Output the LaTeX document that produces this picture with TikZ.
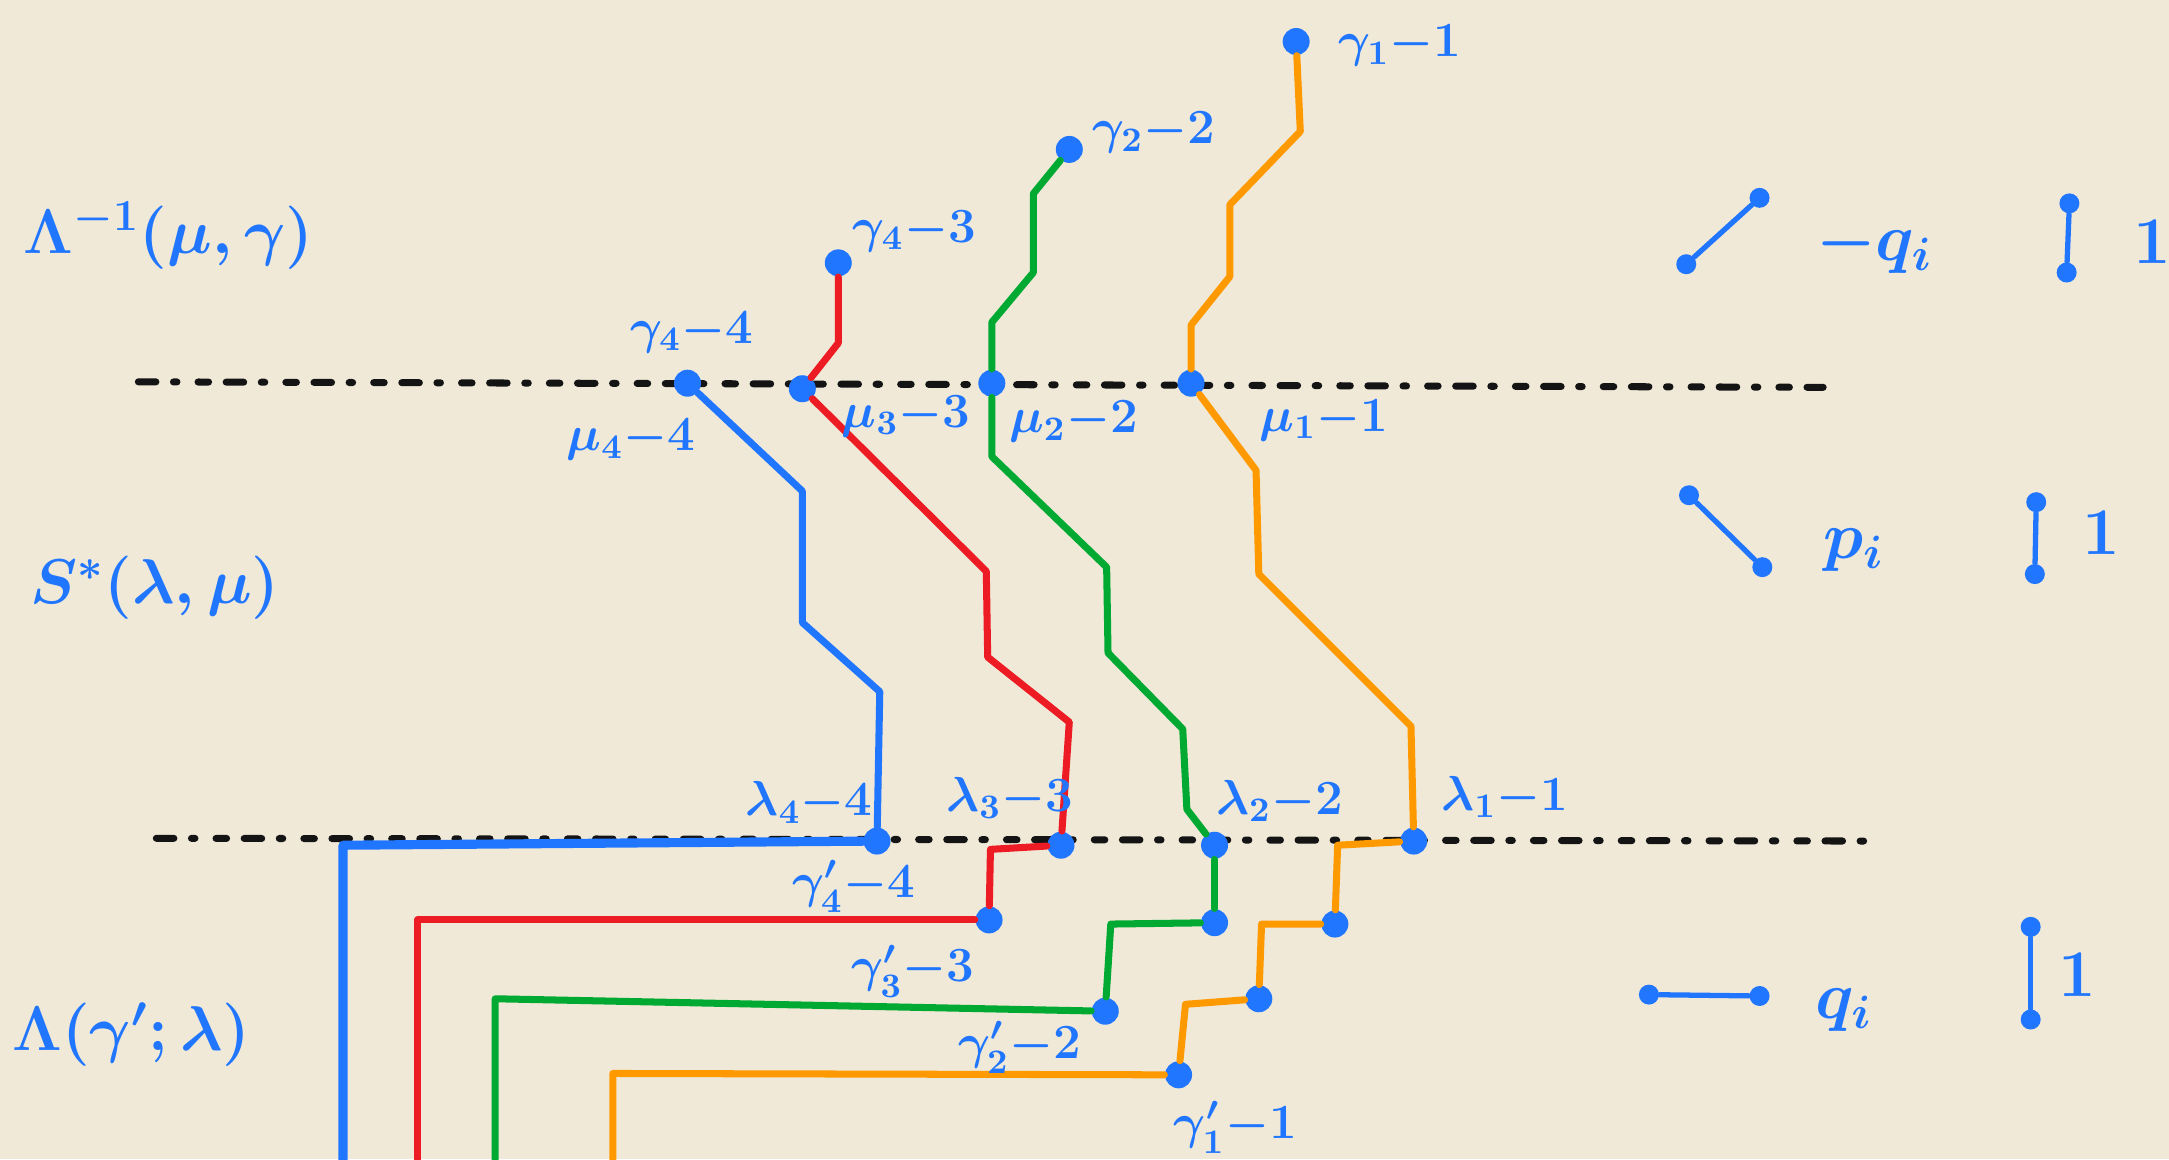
\documentclass[tikz,border=0pt]{standalone}
\usepackage{fix-cm}
\definecolor{bgc}{RGB}{240,233,215}
\definecolor{myblue}{RGB}{33,118,255}
\definecolor{myred}{RGB}{237,28,36}
\definecolor{mygreen}{RGB}{0,170,50}
\definecolor{myorange}{RGB}{255,153,0}
\definecolor{mydark}{RGB}{20,20,20}
\begin{document}
\begin{tikzpicture}[x=0.013833cm,y=-0.013833cm]
\tikzset{
 dotn/.style={circle, fill=myblue, inner sep=0pt, minimum size=0.27cm},
 ldot/.style={circle, fill=myblue, inner sep=0pt, minimum size=0.2cm},
 lbl/.style={text=myblue, font=\fontsize{14}{17}\selectfont\boldmath, inner sep=0pt},
 big/.style={text=myblue, font=\fontsize{18}{22}\selectfont\boldmath, inner sep=0pt},
 leg/.style={text=myblue, font=\fontsize{19}{23}\selectfont\boldmath, inner sep=0pt},
 pth/.style={line width=2pt, line cap=round, line join=round},
 legl/.style={draw=myblue, line width=1.5pt, line cap=round},
 sep/.style={draw=mydark, line width=2pt, line cap=round, dash pattern=on 5pt off 5pt on 1pt off 6pt on 3pt off 5pt},
}
\fill[bgc] (0,0) rectangle (1568,838);
\useasboundingbox (0,0) rectangle (1568,838);

% separator lines
\draw[sep] (100,276) -- (1318,280);
\draw[sep] (113,606) -- (1362,608);

% left labels
\node[big] (t1) at (122,170) {$\Lambda^{-1}(\mu,\gamma)$};
\node[big] (t2) at (112,425) {$S^{*}(\lambda,\mu)$};
\node[big] (t3) at (95,748) {$\Lambda(\gamma';\lambda)$};

% dots
\node[dotn] (g11) at (937,30) {};
\node[dotn] (g22) at (773,108) {};
\node[dotn] (g43) at (606,190) {};
\node[dotn] (m4) at (497,277) {};
\node[dotn] (m3) at (580,281) {};
\node[dotn] (m2) at (717,277) {};
\node[dotn] (m1) at (861,277) {};
\node[dotn] (l4) at (634,608) {};
\node[dotn] (l3) at (767,611) {};
\node[dotn] (l2) at (878,611) {};
\node[dotn] (l1) at (1022,608) {};
\node[dotn] (r1) at (715,665) {};
\node[dotn] (gr1) at (878,667) {};
\node[dotn] (gr2) at (799,731) {};
\node[dotn] (o1) at (965,668) {};
\node[dotn] (o2) at (910,722) {};
\node[dotn] (o3) at (852,777) {};

% upper paths
\draw[pth, myred] (g43) -- (606,248) -- (m3);
\draw[pth, mygreen] (g22) -- (747,140) -- (747,197) -- (717,233) -- (m2);
\draw[pth, myorange] (g11) -- (940,95) -- (889,148) -- (889,200) -- (861,235) -- (m1);

% middle paths
\draw[pth, myblue] (m4) -- (580,355) -- (580,450) -- (636,500) -- (l4);
\draw[pth, myred] (m3) -- (713,413) -- (714,475) -- (773,522) -- (l3);
\draw[pth, mygreen] (m2) -- (717,330) -- (800,410) -- (801,472) -- (855,527) -- (858,585) -- (l2);
\draw[pth, myorange] (m1) -- (908,340) -- (910,415) -- (1020,525) -- (l1);

% lower paths
\draw[pth, myblue, line width=2.6pt] (l4) -- (248,611) -- (248,845);
\draw[pth, myred] (l3) -- (716,614) -- (r1);
\draw[pth, myred] (r1) -- (302,665) -- (302,845);
\draw[pth, mygreen] (l2) -- (gr1);
\draw[pth, mygreen] (gr1) -- (803,668) -- (gr2);
\draw[pth, mygreen] (gr2) -- (358,722) -- (358,845);
\draw[pth, myorange] (l1) -- (967,611) -- (o1);
\draw[pth, myorange] (o1) -- (912,668) -- (o2);
\draw[pth, myorange] (o2) -- (857,726) -- (o3);
\draw[pth, myorange] (o3) -- (443,776) -- (443,845);

% labels
\node[lbl] (a1) at (1012,33) {$\gamma_1{-}1$};
\node[lbl] (a2) at (834,96) {$\gamma_2{-}2$};
\node[lbl] (a3) at (661,167) {$\gamma_4{-}3$};
\node[lbl] (a4) at (500,240) {$\gamma_4{-}4$};
\node[lbl] (b4) at (456,318) {$\mu_4{-}4$};
\node[lbl] (b3) at (655,301) {$\mu_3{-}3$};
\node[lbl] (b2) at (776,305) {$\mu_2{-}2$};
\node[lbl] (b1) at (957,304) {$\mu_1{-}1$};
\node[lbl] (c4) at (585,580) {$\lambda_4{-}4$};
\node[lbl] (c3) at (730,577) {$\lambda_3{-}3$};
\node[lbl] (c2) at (925,579) {$\lambda_2{-}2$};
\node[lbl] (c1) at (1088,576) {$\lambda_1{-}1$};
\node[lbl] (d4) at (617,641) {$\gamma'_4{-}4$};
\node[lbl] (d3) at (660,702) {$\gamma'_3{-}3$};
\node[lbl] (d2) at (737,757) {$\gamma'_2{-}2$};
\node[lbl] (d1) at (893,815) {$\gamma'_1{-}1$};

% legend
\node[ldot] (e1a) at (1219,191) {};
\node[ldot] (e1b) at (1272,143) {};
\draw[legl] (e1a) -- (e1b);
\node[leg] (e1t) at (1355,178) {$-q_i$};
\node[ldot] (f1a) at (1496,147) {};
\node[ldot] (f1b) at (1494,197) {};
\draw[legl] (f1a) -- (f1b);
\node[leg] (f1t) at (1556,175) {$1$};

\node[ldot] (e2a) at (1221,358) {};
\node[ldot] (e2b) at (1274,410) {};
\draw[legl] (e2a) -- (e2b);
\node[leg] (e2t) at (1340,398) {$p_i$};
\node[ldot] (f2a) at (1472,363) {};
\node[ldot] (f2b) at (1471,415) {};
\draw[legl] (f2a) -- (f2b);
\node[leg] (f2t) at (1519,385) {$1$};

\node[ldot] (e3a) at (1192,719) {};
\node[ldot] (e3b) at (1272,720) {};
\draw[legl] (e3a) -- (e3b);
\node[leg] (e3t) at (1333,730) {$q_i$};
\node[ldot] (f3a) at (1468,670) {};
\node[ldot] (f3b) at (1468,737) {};
\draw[legl] (f3a) -- (f3b);
\node[leg] (f3t) at (1502,705) {$1$};
\end{tikzpicture}
\end{document}
